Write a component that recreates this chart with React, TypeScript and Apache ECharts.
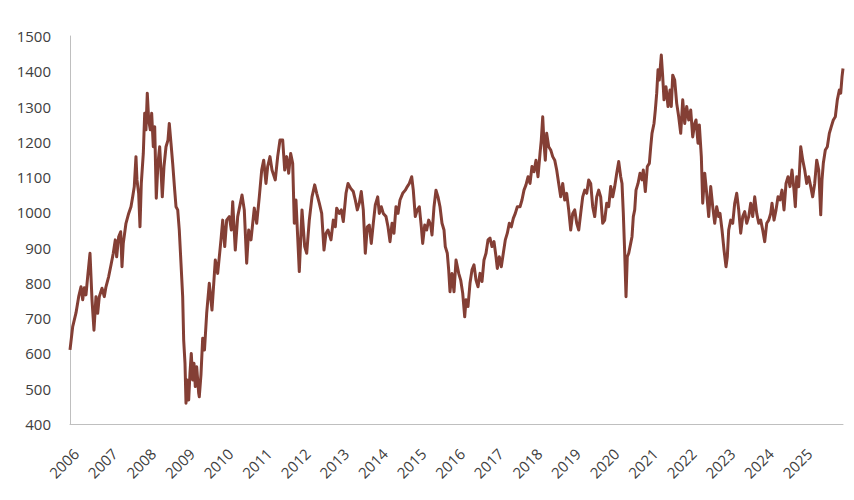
import React, { useEffect, useRef } from "react";
import * as echarts from "echarts";

// Decimal years of the sampled points
const dates: number[] = [
  2005.845, 2005.915, 2006.0, 2006.07, 2006.13, 2006.174, 2006.215, 2006.259, 2006.303, 2006.363,
  2006.415, 2006.466, 2006.518, 2006.562, 2006.604, 2006.674, 2006.733, 2006.777, 2006.847, 2006.907,
  2006.966, 2007.018, 2007.054, 2007.106, 2007.158, 2007.192, 2007.225, 2007.295, 2007.365, 2007.425,
  2007.469, 2007.51, 2007.554, 2007.58, 2007.624, 2007.658, 2007.692, 2007.744, 2007.78, 2007.813,
  2007.847, 2007.883, 2007.925, 2007.961, 2008.003, 2008.039, 2008.08, 2008.124, 2008.168, 2008.202,
  2008.236, 2008.28, 2008.332, 2008.383, 2008.417, 2008.461, 2008.505, 2008.557, 2008.591, 2008.635,
  2008.676, 2008.72, 2008.764, 2008.79, 2008.824, 2008.85, 2008.883, 2008.92, 2008.953, 2008.987,
  2009.023, 2009.057, 2009.091, 2009.127, 2009.179, 2009.194, 2009.238, 2009.282, 2009.329, 2009.386,
  2009.453, 2009.523, 2009.609, 2009.671, 2009.756, 2009.801, 2009.853, 2009.904, 2009.972, 2010.024,
  2010.06, 2010.127, 2010.189, 2010.301, 2010.36, 2010.422, 2010.474, 2010.534, 2010.619, 2010.681,
  2010.749, 2010.811, 2010.863, 2010.922, 2010.966, 2011.026, 2011.078, 2011.163, 2011.225, 2011.285,
  2011.355, 2011.407, 2011.459, 2011.51, 2011.562, 2011.614, 2011.656, 2011.699, 2011.743, 2011.785,
  2011.855, 2011.925, 2011.977, 2012.044, 2012.114, 2012.184, 2012.236, 2012.303, 2012.365, 2012.425,
  2012.477, 2012.528, 2012.606, 2012.666, 2012.718, 2012.754, 2012.821, 2012.873, 2012.925, 2012.995,
  2013.047, 2013.117, 2013.184, 2013.236, 2013.288, 2013.339, 2013.391, 2013.443, 2013.495, 2013.547,
  2013.598, 2013.65, 2013.702, 2013.754, 2013.816, 2013.858, 2013.909, 2013.961, 2014.031, 2014.083,
  2014.135, 2014.187, 2014.238, 2014.29, 2014.342, 2014.394, 2014.464, 2014.531, 2014.583, 2014.635,
  2014.697, 2014.738, 2014.79, 2014.842, 2014.894, 2014.946, 2014.982, 2015.034, 2015.085, 2015.137,
  2015.189, 2015.223, 2015.275, 2015.326, 2015.378, 2015.43, 2015.482, 2015.534, 2015.567, 2015.619,
  2015.655, 2015.689, 2015.741, 2015.793, 2015.845, 2015.915, 2015.966, 2016.018, 2016.07, 2016.104,
  2016.155, 2016.207, 2016.259, 2016.311, 2016.363, 2016.415, 2016.466, 2016.518, 2016.57, 2016.622,
  2016.674, 2016.725, 2016.777, 2016.829, 2016.881, 2016.915, 2016.966, 2017.018, 2017.07, 2017.122,
  2017.174, 2017.225, 2017.277, 2017.329, 2017.381, 2017.433, 2017.503, 2017.554, 2017.606, 2017.658,
  2017.71, 2017.762, 2017.813, 2017.865, 2017.917, 2017.969, 2018.021, 2018.054, 2018.091, 2018.124,
  2018.158, 2018.194, 2018.246, 2018.298, 2018.35, 2018.402, 2018.453, 2018.505, 2018.557, 2018.609,
  2018.661, 2018.712, 2018.764, 2018.816, 2018.868, 2018.92, 2018.972, 2019.024, 2019.075, 2019.127,
  2019.179, 2019.231, 2019.282, 2019.334, 2019.386, 2019.438, 2019.49, 2019.541, 2019.593, 2019.645,
  2019.697, 2019.749, 2019.801, 2019.852, 2019.904, 2019.956, 2020.008, 2020.06, 2020.111, 2020.145,
  2020.179, 2020.215, 2020.249, 2020.282, 2020.319, 2020.37, 2020.404, 2020.438, 2020.474, 2020.508,
  2020.56, 2020.611, 2020.663, 2020.697, 2020.749, 2020.801, 2020.853, 2020.889, 2020.922, 2020.974,
  2021.008, 2021.044, 2021.078, 2021.111, 2021.163, 2021.199, 2021.233, 2021.285, 2021.337, 2021.389,
  2021.422, 2021.459, 2021.51, 2021.562, 2021.614, 2021.666, 2021.718, 2021.769, 2021.821, 2021.873,
  2021.925, 2021.977, 2022.029, 2022.062, 2022.114, 2022.148, 2022.2, 2022.236, 2022.288, 2022.339,
  2022.391, 2022.443, 2022.495, 2022.547, 2022.598, 2022.65, 2022.684, 2022.736, 2022.788, 2022.839,
  2022.873, 2022.909, 2022.961, 2023.013, 2023.065, 2023.117, 2023.168, 2023.22, 2023.272, 2023.324,
  2023.376, 2023.428, 2023.479, 2023.531, 2023.583, 2023.635, 2023.687, 2023.738, 2023.79, 2023.842,
  2023.894, 2023.946, 2023.997, 2024.031, 2024.083, 2024.135, 2024.187, 2024.238, 2024.29, 2024.342,
  2024.394, 2024.446, 2024.497, 2024.549, 2024.601, 2024.635, 2024.671, 2024.723, 2024.775, 2024.827,
  2024.878, 2024.93, 2024.982, 2025.034, 2025.085, 2025.137, 2025.189, 2025.241, 2025.293, 2025.326,
  2025.36, 2025.412, 2025.464, 2025.516, 2025.567, 2025.619, 2025.671, 2025.723, 2025.775, 2025.811,
  2025.845, 2025.87,
];

// Index level at each point
const values: number[] = [
  610, 676, 715, 761, 789, 752, 786, 766, 818, 884,
  752, 666, 761, 714, 761, 785, 761, 789, 818, 851,
  884, 922, 874, 931, 945, 846, 912, 969, 997, 1016,
  1044, 1073, 1158, 1092, 1054, 959, 1082, 1167, 1281, 1234,
  1338, 1262, 1234, 1281, 1186, 1243, 1040, 1139, 1186, 1120,
  1044, 1130, 1186, 1205, 1252, 1196, 1139, 1063, 1016, 1007,
  950, 856, 761, 638, 572, 459, 525, 468, 544, 600,
  525, 572, 506, 562, 487, 477, 540, 643, 610, 714,
  799, 723, 865, 827, 922, 978, 903, 978, 988, 950,
  1030, 893, 988, 1049, 1007, 856, 950, 922, 1012, 969,
  1044, 1120, 1148, 1082, 1130, 1158, 1120, 1092, 1158, 1205,
  1205, 1120, 1158, 1111, 1167, 1139, 969, 1035, 931, 832,
  1007, 903, 884, 978, 1044, 1078, 1054, 1026, 997, 893,
  941, 950, 922, 978, 959, 1012, 997, 1007, 974, 1054,
  1082, 1068, 1059, 1035, 1007, 1026, 1059, 1007, 884, 959,
  964, 912, 969, 1021, 1044, 997, 1016, 997, 988, 959,
  917, 969, 941, 1016, 997, 1035, 1054, 1063, 1073, 1082,
  1101, 1063, 988, 1007, 1016, 959, 912, 964, 950, 978,
  964, 936, 1016, 1063, 1044, 1016, 969, 950, 903, 884,
  837, 775, 827, 775, 865, 827, 808, 771, 704, 752,
  733, 799, 837, 851, 808, 789, 827, 804, 865, 884,
  922, 927, 903, 917, 874, 841, 874, 846, 884, 922,
  941, 969, 959, 983, 997, 1016, 1016, 1035, 1063, 1078,
  1101, 1082, 1130, 1115, 1148, 1101, 1167, 1205, 1271, 1196,
  1148, 1224, 1186, 1177, 1158, 1148, 1120, 1082, 1044, 1082,
  1035, 1054, 1007, 950, 997, 1007, 969, 950, 997, 1044,
  1063, 1054, 1092, 1082, 1016, 988, 1044, 1063, 1044, 969,
  978, 1026, 1016, 1073, 1044, 1073, 1111, 1144, 1101, 1082,
  997, 884, 761, 874, 884, 912, 931, 988, 1007, 1063,
  1082, 1111, 1092, 1120, 1059, 1130, 1139, 1186, 1224, 1252,
  1290, 1338, 1404, 1375, 1446, 1385, 1319, 1356, 1300, 1347,
  1300, 1389, 1375, 1309, 1271, 1224, 1319, 1252, 1300, 1262,
  1290, 1214, 1252, 1262, 1196, 1248, 1158, 1026, 1111, 1054,
  988, 1073, 1016, 969, 1016, 988, 997, 950, 893, 846,
  874, 950, 978, 969, 1026, 1054, 1007, 941, 988, 1002,
  969, 988, 1026, 988, 1044, 997, 969, 978, 950, 917,
  969, 978, 997, 1026, 978, 1007, 1044, 1035, 1063, 1007,
  1082, 1101, 1073, 1120, 1063, 1016, 1101, 1073, 1186, 1148,
  1120, 1082, 1101, 1073, 1044, 1082, 1148, 1120, 993, 1092,
  1139, 1177, 1186, 1224, 1243, 1262, 1271, 1319, 1347, 1338,
  1385, 1408,
];

const yearLabels: number[] = [
  2006, 2007, 2008, 2009, 2010, 2011, 2012, 2013, 2014, 2015,
  2016, 2017, 2018, 2019, 2020, 2021, 2022, 2023, 2024, 2025,
];

const FONT = "'Open Sans', sans-serif";

export default function App() {
  const ref = useRef<HTMLDivElement>(null);
  useEffect(() => {
    document.body.style.margin = "0";
    if (!ref.current) return;
    const chart = echarts.init(ref.current, null, { renderer: "svg" });
    chart.setOption({
      animation: false,
      backgroundColor: "#ffffff",
      grid: { left: 70, right: 11, top: 36, bottom: 76, containLabel: false },
      xAxis: {
        type: "value",
        min: dates[0],
        max: dates[dates.length - 1],
        axisLine: { show: true, lineStyle: { color: "#bfbfbf", width: 1 } },
        axisTick: { show: false },
        splitLine: { show: false },
        axisLabel: {
          customValues: yearLabels,
          formatter: (v: number) => String(Math.round(v)),
          rotate: 45,
          margin: 27,
          color: "#404040",
          fontFamily: FONT,
          fontSize: 15,
        },
      },
      yAxis: {
        type: "value",
        min: 400,
        max: 1500,
        interval: 100,
        axisLine: { show: true, lineStyle: { color: "#bfbfbf", width: 1 } },
        axisTick: { show: false },
        splitLine: { show: false },
        axisLabel: {
          margin: 19,
          formatter: (v: number) => String(v),
          color: "#404040",
          fontFamily: FONT,
          fontSize: 15,
        },
      },
      series: [
        {
          type: "line",
          data: dates.map((d, i) => [d, values[i]]),
          showSymbol: false,
          symbol: "none",
          lineStyle: { color: "#843f35", width: 3, join: "round" },
          itemStyle: { color: "#843f35" },
        },
      ],
    });
    return () => chart.dispose();
  }, []);
  return <div ref={ref} style={{ width: 854, height: 500 }} />;
}
